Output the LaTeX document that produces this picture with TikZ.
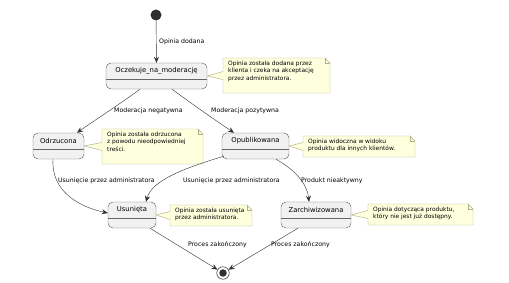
\documentclass[tikz,border=0pt]{standalone}
\usepackage{fontspec}
\setmainfont{DejaVu Sans}
\usetikzlibrary{arrows.meta,calc}

\definecolor{statefill}{HTML}{F1F1F1}
\definecolor{stateline}{HTML}{666666}
\definecolor{lineclr}{HTML}{303030}
\definecolor{notefill}{HTML}{FEFFDD}
\definecolor{noteline}{HTML}{B0B088}

\tikzset{
  x=1pt, y=-1pt,
  statebox/.style={draw=stateline, line width=0.45pt, fill=statefill,
    rounded corners=5pt, inner sep=0pt},
  statename/.style={font=\fontsize{6.8}{8}\selectfont, inner sep=0pt},
  notetext/.style={font=\fontsize{5.9}{7.2}\selectfont, align=left,
    anchor=north west, inner sep=0pt},
  edgelabel/.style={font=\fontsize{6.2}{7.5}\selectfont, anchor=west, inner sep=0pt},
  trans/.style={draw=lineclr, line width=0.4pt,
    -{Stealth[length=6pt,width=5pt,inset=2pt]}},
  noteshape/.style={draw=noteline, line width=0.45pt, fill=notefill, line join=miter},
}

% state: name, left, top, right, bottom, label
\newcommand{\umlstate}[6]{%
  \node[statebox, minimum width={#4-#2}, minimum height={#5-#3}]
    (#1) at ({(#2+#4)/2},{(#3+#5)/2}) {};
  \node[statename] (#1-name) at ({(#2+#4)/2},{#3+8}) {#6};
  \draw[draw=stateline, line width=0.4pt] (#2,{#3+16}) -- (#4,{#3+16});
}

% note with folded corner and a tail to the state: name, left, top, right, bottom, tip, text
\newcommand{\umlnote}[7]{%
  \coordinate (#1-tip) at (#6);
  \filldraw[noteshape]
    (#2,#3) -- ({#4-5},#3) -- (#4,{#3+5}) -- (#4,#5) -- (#2,#5)
    -- (#2,{(#3+#5)/2+4}) -- (#1-tip) -- (#2,{(#3+#5)/2-4}) -- cycle;
  \draw[noteshape, fill=none] ({#4-5},#3) -- ({#4-5},{#3+5}) -- (#4,{#3+5});
  \node[notetext] (#1) at ({#2+5},{#3+3}) {#7};
}

\begin{document}
\begin{tikzpicture}
  \path[use as bounding box, fill=white] (0,0) rectangle (509,283);

  % initial and final pseudo-states
  \node[circle, fill=lineclr, minimum size=11pt, inner sep=0pt] (start) at (156,15) {};
  \node[circle, draw=lineclr, line width=0.5pt, minimum size=12.5pt, inner sep=0pt] (finish) at (223,273) {};
  \node[circle, fill=lineclr, minimum size=7.5pt, inner sep=0pt] (finishdot) at (223,273) {};

  % states
  \umlstate{ocz}{106}{63}{207}{89}{Oczekuje\_na\_moderację}
  \umlstate{odr}{33}{133}{84}{159}{Odrzucona}
  \umlstate{opu}{222}{133}{289}{159}{Opublikowana}
  \umlstate{usu}{108}{202}{156}{228}{Usunięta}
  \umlstate{zar}{281}{202}{351}{228}{Zarchiwizowana}

  % notes
  \umlnote{n1}{223}{58}{330}{93}{ocz.east}{Opinia została dodana przez\\klienta i czeka na akceptację\\przez administratora.}
  \umlnote{n2}{102}{129}{203}{164}{odr.east}{Opinia została odrzucona\\z powodu nieodpowiedniej\\treści.}
  \umlnote{n3}{303}{136}{415}{157}{opu.east}{Opinia widoczna w widoku\\produktu dla innych klientów.}
  \umlnote{n4}{170}{205}{252}{226}{usu.east}{Opinia została usunięta\\przez administratora.}
  \umlnote{n5}{368}{204}{473}{225}{zar.east}{Opinia dotycząca produktu,\\który nie jest już dostępny.}

  % transitions
  \draw[trans] (start) -- (ocz.north);
  \draw[trans] (ocz.south -| 140,0) .. controls (120,104) and (95,120) .. (odr.north -| 77,0);
  \draw[trans] (ocz.south -| 172,0) .. controls (192,104) and (215,120) .. (opu.north -| 234,0);
  \draw[trans] (odr.south -| 53,0) .. controls (51,192) and (80,207) .. (usu.west |- 0,213);
  \draw[trans] (opu.south west) ++(2,-3) .. controls (185,168) and (152,180) .. (usu.north -| 146,0);
  \draw[trans] (opu.south -| 276,0) .. controls (292,168) and (307,182) .. (zar.north -| 309,0);
  \draw[trans] (usu.south -| 150,0) -- (finish);
  \draw[trans] (zar.south -| 298,0) -- (finish);

  % transition labels
  \node[edgelabel] (l1) at (159,42) {Opinia dodana};
  \node[edgelabel] (l2) at (114,111) {Moderacja negatywna};
  \node[edgelabel] (l3) at (211,111) {Moderacja pozytywna};
  \node[edgelabel] (l4) at (58,181) {Usunięcie przez administratora};
  \node[edgelabel] (l5) at (183,181) {Usunięcie przez administratora};
  \node[edgelabel] (l6) at (301,181) {Produkt nieaktywny};
  \node[edgelabel] (l7) at (188,245) {Proces zakończony};
  \node[edgelabel] (l8) at (271,245) {Proces zakończony};
\end{tikzpicture}
\end{document}
